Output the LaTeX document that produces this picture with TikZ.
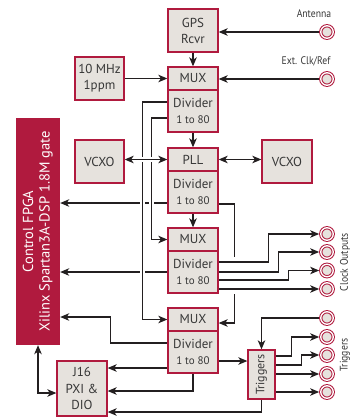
\documentclass[tikz,border=0pt]{standalone}
\usepackage{fontspec}
\setmainfont{PT Sans}
\newfontfamily\narrowfont[FakeStretch=0.88]{PT Sans}
\usetikzlibrary{arrows.meta,backgrounds}
\definecolor{crim}{RGB}{176,26,62}
\definecolor{boxgrey}{RGB}{230,226,221}
\definecolor{ink}{RGB}{35,31,32}
\definecolor{txt}{RGB}{55,55,55}
\newcommand\smallnum{\fontsize{11}{13}\selectfont}

\begin{document}
\begin{tikzpicture}[x=1pt, y=-1pt,
    blk/.style={draw=crim, line width=1.3pt, fill=boxgrey, text=txt, inner sep=0pt,
      minimum width=50pt, align=center, font=\fontsize{13}{16}\selectfont},
    jack/.style={circle, draw=crim, double=white, double distance=1.3pt, line width=1pt,
      fill=boxgrey, minimum size=12.5pt, inner sep=0pt, outer sep=1.6pt},
    wire/.style={draw=ink, line width=1.2pt},
    arr/.style={wire, -{Stealth[length=9pt,width=7.5pt,inset=2.5pt]}},
    dbl/.style={wire, {Stealth[length=9pt,width=7.5pt,inset=2.5pt]}-{Stealth[length=9pt,width=7.5pt,inset=2.5pt]}},
    halo/.style={preaction={draw=white, line width=#1, arrows=-}},
    halo/.default=5pt,
    lbl/.style={text=txt, inner sep=0pt, font=\narrowfont\fontsize{11}{13}\selectfont}]
    \useasboundingbox (0,0) rectangle (359,418);

    % main chain
    \node (gps) at (193,30.5) [blk, minimum height=43pt] {GPS\\Rcvr};
    \node (osc) at (99.5,78.5) [blk, minimum width=49pt, minimum height=43pt] {10 MHz\\1ppm};
    \node (mux1) at (193,78.5) [blk, minimum height=23pt] {MUX};
    \node (div1) at (193,111) [blk, minimum height=42pt] {Divider\\\smallnum 1 to 80};
    \node (pll) at (193,159.5) [blk, minimum height=23pt] {PLL};
    \node (div2) at (193,192) [blk, minimum height=42pt] {Divider\\\smallnum 1 to 80};
    \node (mux2) at (193,239.5) [blk, minimum height=23pt] {MUX};
    \node (div3) at (193,272) [blk, minimum height=42pt] {Divider\\\smallnum 1 to 80};
    \node (mux3) at (193,319.5) [blk, minimum height=23pt] {MUX};
    \node (div4) at (193,352) [blk, minimum height=42pt] {Divider\\\smallnum 1 to 80};

    \node (vcxoa) at (99.5,161.5) [blk, minimum width=49pt, minimum height=43pt] {VCXO};
    \node (vcxob) at (287,161.5) [blk, minimum height=43pt] {VCXO};

    \node (fpga) at (38,231.5) [fill=crim, text=white, inner sep=0pt, minimum width=44pt, minimum height=227pt]
      {\rotatebox{90}{\fontsize{14.5}{16.5}\selectfont\begin{tabular}{@{}c@{}}Control FPGA\\Xilinx Spartan3A-DSP 1.8M gate\end{tabular}}};
    \node (jpxi) at (82,388.5) [blk, minimum height=55pt, font=\fontsize{13}{16.5}\selectfont] {J16\\PXI \&\\DIO};
    \node (trig) at (261.5,374.5) [blk, minimum width=27pt, minimum height=49pt]
      {\rotatebox{90}{\fontsize{12}{14}\selectfont Triggers}};

    % connectors on the right edge
    \node (ant) at (327,32) [jack] {};
    \node (extref) at (327,79) [jack] {};
    \node (antlbl) at (314,14) [lbl] {Antenna};
    \node (extlbl) at (306,61) [lbl] {Ext. Clk/Ref};

    \node (co1) at (327,234) [jack] {};
    \node (co2) at (327,252) [jack] {};
    \node (co3) at (327,270.5) [jack] {};
    \node (co4) at (327,289) [jack] {};
    \node (colbl) at (345,262) [lbl, rotate=90] {Clock Outputs};

    \node (tr1) at (327,318) [jack] {};
    \node (tr2) at (327,337) [jack] {};
    \node (tr3) at (327,355) [jack] {};
    \node (tr4) at (327,374) [jack] {};
    \node (tr5) at (327,392) [jack] {};
    \node (trlbl) at (345,355) [lbl, rotate=90] {Triggers};

    \begin{scope}[on background layer]
    \draw[arr] (gps) -- (mux1);
    \draw[arr] (osc) -- (mux1);
    \draw[arr] (ant) -- (ant -| gps.east);
    \draw[arr] (extref) -- (extref -| mux1.east);
    \draw[arr] (div1) -- (pll);
    \draw[arr] (div2) -- (mux2);
    \draw[dbl] (pll.east) -- (pll.east -| vcxob.west);

    % back to the FPGA
    \draw[arr] ([yshift=-11pt]div2.west) -- ([yshift=28.5pt]fpga.east);
    \draw[arr] (div3.west) -- ([yshift=-40.5pt]fpga.east);
    \draw[arr] ([yshift=9pt]div4.west) -- ++(-57,0) |- ([yshift=-85.5pt]fpga.east);

    % first divider feeds the lower MUXes
    \draw[arr, halo] ([yshift=9pt]div1.west) -- ++(-25,0) |- (mux3.west);
    \draw[arr, halo] ([yshift=-7pt]div1.west) -- ++(-16,0) |- (mux2.west);
    \draw[dbl, halo] (vcxoa.east |- pll.west) -- (pll.west);

    \draw[arr] ([yshift=-12pt]div2.east) -- ++(16,0) |- ([yshift=-3.5pt]mux3.east);

    % clock outputs
    \draw[arr, halo=10pt] ([yshift=10pt]div3.east) -- ++(50,0) |- (co1);
    \draw[arr, halo=10pt] (div3.east) -- ++(60,0) |- (co2);
    \draw[arr, halo=10pt] ([yshift=-8pt]div3.east) -- ++(70,0) |- (co3);
    \draw[arr, halo=10pt] ([yshift=-17pt]div3.east) -- (co4);

    % triggers
    \draw[arr] ([yshift=-9pt]div4.east) -- ([yshift=13.5pt]trig.west);
    \draw[arr] (tr1) -| (trig.north);
    \draw[arr] ([yshift=18.5pt]trig.east) -- ++(16,0) |- (tr2);
    \draw[arr] ([yshift=9.5pt]trig.east) -- ++(26,0) |- (tr3);
    \draw[arr] (trig.east |- tr4) -- (tr4);
    \draw[arr] (trig.east |- tr5) -- (tr5);

    % PXI connector
    \draw[arr] ([yshift=-16pt]div4.west) -- ([yshift=20.5pt]jpxi.east);
    \draw[arr] (div4.south) |- ([yshift=-2.5pt]jpxi.east);
    \draw[arr] (trig.south) |- ([yshift=-23.5pt]jpxi.east);
    \draw[dbl] (fpga.south) |- ([yshift=-4.5pt]jpxi.west);
    \end{scope}
\end{tikzpicture}
\end{document}
